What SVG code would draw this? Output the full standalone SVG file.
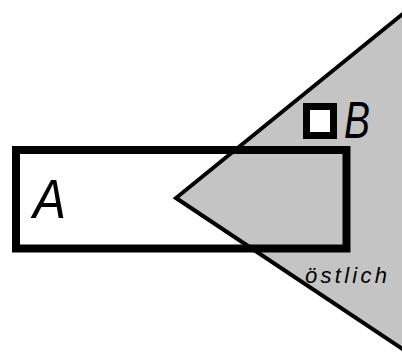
<svg xmlns="http://www.w3.org/2000/svg" width="402" height="360" viewBox="0 0 402 360">
<style>
.lbl{font-family:"Liberation Sans",Arial,sans-serif;font-style:italic;fill:#000}
.box{fill:none;stroke:#000;stroke-width:8}
</style>
<rect width="402" height="360" fill="#fff"/>
<g id="cone">
<polygon points="410,8 176,198 410,354" fill="#c4c4c4" stroke="#000" stroke-width="4" stroke-linejoin="miter"/>
</g>
<g id="A">
<rect class="box" x="16" y="150" width="330.5" height="98.5"/>
<text class="lbl" x="33" y="218" font-size="55" textLength="33" lengthAdjust="spacingAndGlyphs">A</text>
</g>
<g id="B">
<rect x="306.5" y="106.5" width="27" height="29" fill="#fff" stroke="#000" stroke-width="7"/>
<text class="lbl" x="344" y="138" font-size="52" textLength="26" lengthAdjust="spacingAndGlyphs">B</text>
</g>
<g id="label">
<text class="lbl" x="305" y="283" font-size="22" textLength="82" lengthAdjust="spacing" fill="#222">östlich</text>
</g>
</svg>
